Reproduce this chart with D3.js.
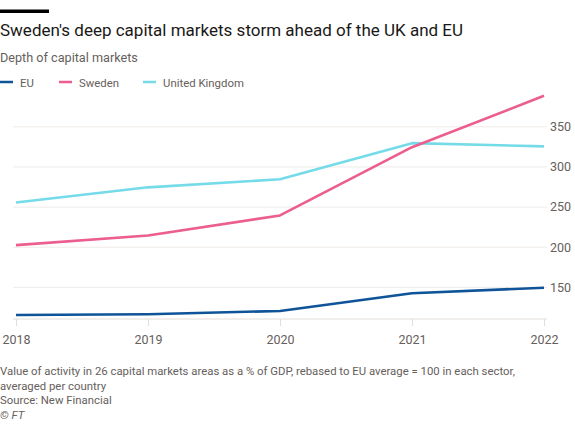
<!DOCTYPE html>
<html><head><meta charset="utf-8">
<script src="https://cdn.jsdelivr.net/npm/d3@7"></script>
<style>
html,body{margin:0;padding:0;background:#fff;}
svg{display:block;font-family:Roboto,sans-serif;}
</style></head>
<body>
<svg id="chart" width="575" height="431"></svg>
<script>
const years = [2018, 2019, 2020, 2021, 2022];
const euValues = [115, 116, 120, 142, 149];
const swedenValues = [202, 214, 239, 324, 388];
const ukValues = [255, 274, 284, 329, 325];
const seriesNames = ["EU", "Sweden", "United Kingdom"];
const seriesColors = ["#0f5499", "#eb5e8d", "#75dbe8"];
const yTicks = [150, 200, 250, 300, 350];

const title = "Sweden's deep capital markets storm ahead of the UK and EU";
const subtitle = "Depth of capital markets";
const footer = ["Value of activity in 26 capital markets areas as a % of GDP, rebased to EU average = 100 in each sector,",
  "averaged per country", "Source: New Financial"];

const svg = d3.select("#chart");
const FONT = "Roboto, sans-serif";

function fitSize(sel, target) {
  const w = sel.node().getComputedTextLength();
  const fs = parseFloat(sel.attr("font-size"));
  return fs * target / w;
}

// top bar
svg.append("rect").attr("x", 0).attr("y", 9.5).attr("width", 49).attr("height", 3.5).attr("fill", "#000");

const tt = svg.append("text").attr("x", 0).attr("y", 36).attr("font-size", 18).attr("fill", "#1a1817").text(title);
tt.attr("font-size", fitSize(tt, 463).toFixed(2));
const st = svg.append("text").attr("x", 0).attr("y", 62).attr("font-size", 14).attr("fill", "#66605c").text(subtitle);
st.attr("font-size", fitSize(st, 138).toFixed(2));

// legend
const legX = [0, 59, 143];
const legend = svg.append("g");
const data = [euValues, swedenValues, ukValues];
const legTexts = [];
seriesNames.forEach((n, i) => {
  legend.append("line").attr("x1", legX[i]).attr("x2", legX[i] + 13).attr("y1", 82).attr("y2", 82)
    .attr("stroke", seriesColors[i]).attr("stroke-width", 2.5);
  legTexts.push(legend.append("text").attr("x", legX[i] + 20).attr("y", 86.5).attr("font-size", 12.5)
    .attr("fill", "#66605c").text(n));
});
const legFs = fitSize(legTexts[2], 81);
legTexts.forEach(t => t.attr("font-size", legFs.toFixed(2)));

const x = d3.scaleLinear().domain([2018, 2022]).range([16, 544]);
const y = d3.scaleLinear().domain([110, 388]).range([319, 95.8]);

// gridlines + y labels
const yAxis = d3.axisRight(y).tickValues(yTicks).tickSize(534).tickPadding(3).tickFormat(d3.format("d"));
const gy = svg.append("g").attr("transform", "translate(13,0)").call(yAxis);
gy.select(".domain").remove();
gy.selectAll(".tick line").attr("stroke", "#efebe8").attr("stroke-width", 1);
gy.selectAll(".tick text").attr("fill", "#66605c").attr("font-size", 12.5)
  .attr("font-family", FONT).attr("dy", "0.35em");

// x axis
const xAxis = d3.axisBottom(x).tickValues(years).tickSize(7).tickPadding(9).tickFormat(d3.format("d"));
const gx = svg.append("g").attr("transform", "translate(0,319)").call(xAxis);
gx.select(".domain").remove();
gx.append("line").attr("x1", 13).attr("x2", 547).attr("y1", 0).attr("y2", 0)
  .attr("stroke", "#e2ddd9").attr("stroke-width", 1);
gx.selectAll(".tick line").attr("stroke", "#e2ddd9");
gx.selectAll(".tick text").attr("fill", "#66605c").attr("font-size", 12.5)
  .attr("font-family", FONT);

// lines
const line = d3.line().x((d, i) => x(years[i])).y(d => y(d)).curve(d3.curveLinear);
[2, 1, 0].forEach(i => {
  svg.append("path").datum(data[i]).attr("d", line).attr("fill", "none")
    .attr("stroke", seriesColors[i]).attr("stroke-width", 2.6)
    .attr("stroke-linejoin", "round").attr("stroke-linecap", "butt");
});

// footer
const fy = [375, 389.5, 404];
const ft = footer.map((f, i) => svg.append("text").attr("x", 0).attr("y", fy[i]).attr("font-size", 12)
  .attr("fill", "#66605c").text(f));
const footFs = Math.min(12, fitSize(ft[0], 515));
ft.forEach(t => t.attr("font-size", footFs.toFixed(2)));
svg.append("text").attr("x", 0).attr("y", 418.5).attr("font-size", footFs.toFixed(2)).attr("font-style", "italic")
  .attr("fill", "#66605c").text("© FT");
</script>
</body></html>
